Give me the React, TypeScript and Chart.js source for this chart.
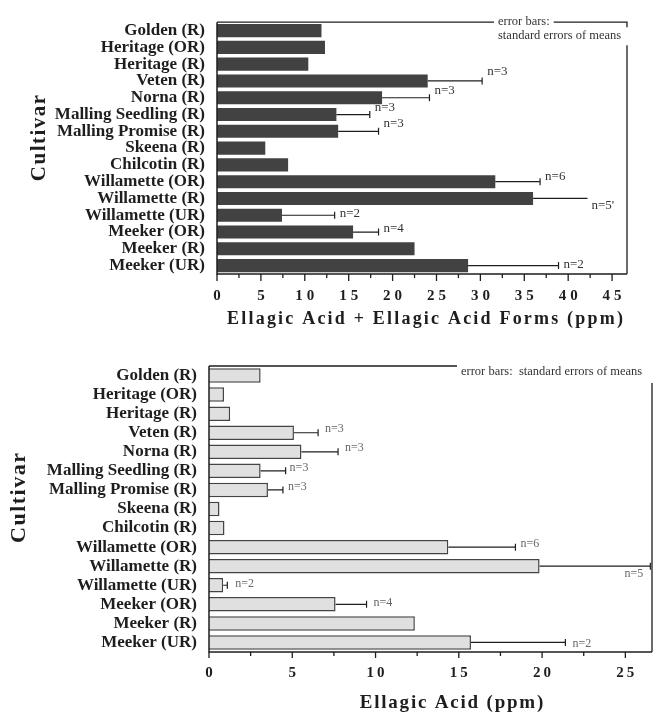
import { useEffect, useRef } from "react";
import { Chart, registerables } from "chart.js";

Chart.register(...registerables);

// Cultivars, top to bottom
const cultivars = [
  "Golden (R)",
  "Heritage (OR)",
  "Heritage (R)",
  "Veten (R)",
  "Norna (R)",
  "Malling Seedling (R)",
  "Malling Promise (R)",
  "Skeena (R)",
  "Chilcotin (R)",
  "Willamette (OR)",
  "Willamette (R)",
  "Willamette (UR)",
  "Meeker (OR)",
  "Meeker (R)",
  "Meeker (UR)",
];

// Ellagic acid + ellagic acid forms (ppm)
const totalMeans = [11.9, 12.3, 10.4, 24.0, 18.8, 13.6, 13.8, 5.5, 8.1, 31.7, 36.0, 7.4, 15.5, 22.5, 28.6];
const totalErrors = [null, null, null, 6.2, 5.4, 3.8, 4.6, null, null, 5.1, 6.2, 6.0, 2.9, null, 10.3];
const totalTicks = [0, 5, 10, 15, 20, 25, 30, 35, 40, 45];

// Free ellagic acid (ppm)
const freeMeans = [3.1, 0.9, 1.27, 5.1, 5.55, 3.1, 3.54, 0.63, 0.93, 14.37, 19.85, 0.85, 7.6, 12.36, 15.73];
const freeErrors = [null, null, null, 1.45, 2.2, 1.5, 0.9, null, null, 4.03, 6.65, 0.25, 1.86, null, 5.67];
const freeTicks = [0, 5, 10, 15, 20, 25];

// Number of samples behind each error bar
const sampleCounts = [null, null, null, 3, 3, 3, 3, null, null, 6, 5, 2, 4, null, 2];

const SERIF = "'Liberation Serif', 'Times New Roman', serif";
const INK = "#1e1e1e";

type LabelPlacement = { dy: number; dx?: number; right?: boolean; suffix?: string };

interface DecorConfig {
  means: number[];
  errors: (number | null)[];
  ticks: number[];
  axisTitle: string;
  titleDx: number;
  titleY: number;
  titleSize: number;
  titleSpacing: number;
  tickY: number;
  tickSpacing: number;
  majorLen: number;
  minorLen: number;
  cultivarX: number;
  cultivarY: number;
  cultivarSize: number;
  nFont: string;
  nColor: string;
  placements: Record<number, LabelPlacement>;
  noCap: number[];
  note: (ctx: CanvasRenderingContext2D, area: { left: number; right: number; top: number; bottom: number }) => void;
}

function spacedText(
  ctx: CanvasRenderingContext2D,
  text: string,
  x: number,
  y: number,
  spacing: number
) {
  ctx.save();
  (ctx as any).letterSpacing = spacing + "px";
  ctx.textAlign = "left";
  ctx.textBaseline = "middle";
  const w = ctx.measureText(text).width - spacing;
  ctx.fillText(text, x - w / 2, y);
  ctx.restore();
}

function makeDecor(cfg: DecorConfig) {
  return {
    id: "decor",
    afterDatasetsDraw(chart: Chart) {
      const ctx = chart.ctx;
      const xs = chart.scales.x;
      const ys = chart.scales.y;
      ctx.save();
      ctx.strokeStyle = INK;
      ctx.lineWidth = 1.2;
      cfg.means.forEach((m, i) => {
        const e = cfg.errors[i];
        if (e == null) return;
        const y = ys.getPixelForValue(i);
        const x0 = xs.getPixelForValue(m);
        const x1 = xs.getPixelForValue(m + e);
        ctx.beginPath();
        ctx.moveTo(x0, y);
        ctx.lineTo(x1, y);
        if (!cfg.noCap.includes(i)) {
          ctx.moveTo(x1, y - 3.5);
          ctx.lineTo(x1, y + 3.5);
        }
        ctx.stroke();
        const n = sampleCounts[i];
        if (n != null) {
          const p = cfg.placements[i] || { dy: -3 };
          ctx.font = cfg.nFont;
          ctx.fillStyle = cfg.nColor;
          ctx.textBaseline = "middle";
          const label = "n=" + n + (p.suffix || "");
          if (p.right) {
            ctx.textAlign = "right";
            ctx.fillText(label, x1 + (p.dx ?? -7), y + p.dy);
          } else {
            ctx.textAlign = "left";
            ctx.fillText(label, x1 + (p.dx ?? 5), y + p.dy);
          }
        }
      });
      ctx.restore();
    },
    afterDraw(chart: Chart) {
      const ctx = chart.ctx;
      const area = chart.chartArea;
      const xs = chart.scales.x;
      ctx.save();
      ctx.strokeStyle = INK;
      ctx.lineWidth = 1.5;
      // left and bottom axis lines
      ctx.beginPath();
      ctx.moveTo(area.left, area.top);
      ctx.lineTo(area.left, area.bottom);
      ctx.lineTo(area.right, area.bottom);
      ctx.stroke();

      // tick marks: majors at labelled values, minors halfway between
      ctx.lineWidth = 1.3;
      ctx.beginPath();
      cfg.ticks.forEach((t, k) => {
        const x = xs.getPixelForValue(t);
        ctx.moveTo(x, area.bottom);
        ctx.lineTo(x, area.bottom + cfg.majorLen);
        if (k < cfg.ticks.length - 1) {
          const xm = xs.getPixelForValue((t + cfg.ticks[k + 1]) / 2);
          ctx.moveTo(xm, area.bottom);
          ctx.lineTo(xm, area.bottom + cfg.minorLen);
        }
      });
      ctx.stroke();

      // tick labels
      ctx.fillStyle = INK;
      ctx.font = `bold 15px ${SERIF}`;
      cfg.ticks.forEach((t) => {
        spacedText(ctx, String(t), xs.getPixelForValue(t), cfg.tickY, cfg.tickSpacing);
      });

      // axis titles
      ctx.font = `bold ${cfg.titleSize}px ${SERIF}`;
      spacedText(ctx, cfg.axisTitle, (area.left + area.right) / 2 + cfg.titleDx, cfg.titleY, cfg.titleSpacing);

      ctx.save();
      ctx.translate(cfg.cultivarX, cfg.cultivarY);
      ctx.rotate(-Math.PI / 2);
      ctx.font = `bold ${cfg.cultivarSize}px ${SERIF}`;
      spacedText(ctx, "Cultivar", 0, 0, 1.5);
      ctx.restore();

      cfg.note(ctx, area);
      ctx.restore();
    },
  };
}

function BarPanel(props: {
  width: number;
  height: number;
  top: number;
  padTop: number;
  padRight: number;
  yWidth: number;
  xHeight: number;
  means: number[];
  max: number;
  fill: string;
  border: string;
  borderWidth: number;
  barPct: number;
  decor: DecorConfig;
}) {
  const ref = useRef<HTMLCanvasElement | null>(null);
  useEffect(() => {
    if (!ref.current) return;
    const chart = new Chart(ref.current, {
      type: "bar",
      data: {
        labels: cultivars,
        datasets: [
          {
            data: props.means,
            backgroundColor: props.fill,
            borderColor: props.border,
            borderWidth: props.borderWidth,
            borderSkipped: "start",
            barPercentage: props.barPct,
            categoryPercentage: 1,
          },
        ],
      },
      options: {
        indexAxis: "y",
        responsive: false,
        animation: false,
        layout: { padding: { top: props.padTop, right: props.padRight, left: 0, bottom: 0 } },
        plugins: { legend: { display: false }, tooltip: { enabled: false } },
        scales: {
          x: {
            type: "linear",
            min: 0,
            max: props.max,
            grid: { display: false },
            border: { display: false },
            ticks: { display: false },
            afterFit: (s: any) => {
              s.height = props.xHeight;
            },
          },
          y: {
            grid: { display: false, drawTicks: false },
            border: { display: false },
            ticks: {
              autoSkip: false,
              padding: 12,
              color: INK,
              font: { family: SERIF, weight: "bold", size: 17 },
            },
            afterFit: (s: any) => {
              s.width = props.yWidth;
            },
          },
        },
      },
      plugins: [makeDecor(props.decor)],
    } as any);
    return () => chart.destroy();
  }, []);
  return (
    <canvas
      ref={ref}
      width={props.width}
      height={props.height}
      style={{ position: "absolute", left: 0, top: props.top, width: props.width, height: props.height }}
    />
  );
}

const totalDecor: DecorConfig = {
  means: totalMeans,
  errors: totalErrors,
  ticks: totalTicks,
  axisTitle: "Ellagic Acid + Ellagic Acid Forms (ppm)",
  titleDx: 3,
  titleY: 319,
  titleSize: 18,
  titleSpacing: 2.2,
  tickY: 296,
  tickSpacing: 4,
  majorLen: 7,
  minorLen: 4,
  cultivarX: 40,
  cultivarY: 138,
  cultivarSize: 21,
  nFont: `13px ${SERIF}`,
  nColor: "#333",
  placements: {
    3: { dy: -9 },
    4: { dy: -7 },
    5: { dy: -7 },
    6: { dy: -8 },
    9: { dy: -5 },
    10: { dy: 7, dx: 4, suffix: "'" },
    11: { dy: -2 },
    12: { dy: -3 },
    14: { dy: -1 },
  },
  noCap: [10],
  note: (ctx, a) => {
    ctx.strokeStyle = INK;
    ctx.lineWidth = 1.3;
    ctx.font = `12.5px ${SERIF}`;
    ctx.fillStyle = "#333";
    ctx.textAlign = "left";
    ctx.textBaseline = "middle";
    const tx = a.right - 129;
    const w1 = ctx.measureText("error bars:").width;
    ctx.fillText("error bars:", tx, a.top);
    ctx.fillText("standard errors of means", tx, a.top + 14);
    ctx.beginPath();
    ctx.moveTo(a.left, a.top);
    ctx.lineTo(tx - 4, a.top);
    ctx.moveTo(tx + w1 + 4, a.top);
    ctx.lineTo(a.right, a.top);
    ctx.lineTo(a.right, a.top + 5);
    ctx.moveTo(a.right, a.top + 23);
    ctx.lineTo(a.right, a.bottom);
    ctx.stroke();
  },
};

const freeDecor: DecorConfig = {
  means: freeMeans,
  errors: freeErrors,
  ticks: freeTicks,
  axisTitle: "Ellagic Acid (ppm)",
  titleDx: 21,
  titleY: 363,
  titleSize: 19,
  titleSpacing: 1.8,
  tickY: 333,
  tickSpacing: 3,
  majorLen: 6,
  minorLen: 4,
  cultivarX: 19,
  cultivarY: 158,
  cultivarSize: 22,
  nFont: `12px ${SERIF}`,
  nColor: "#666",
  placements: {
    3: { dy: -4, dx: 7 },
    4: { dy: -4, dx: 7 },
    5: { dy: -3, dx: 4 },
    6: { dy: -3, dx: 5 },
    9: { dy: -3 },
    10: { dy: 8, right: true },
    11: { dy: -1, dx: 8 },
    12: { dy: -1, dx: 7 },
    14: { dy: 1, dx: 7 },
  },
  noCap: [],
  note: (ctx, a) => {
    ctx.strokeStyle = INK;
    ctx.lineWidth = 1.3;
    ctx.font = `12.5px ${SERIF}`;
    ctx.fillStyle = "#333";
    ctx.textAlign = "left";
    ctx.textBaseline = "middle";
    const tx = a.left + 252;
    ctx.fillText("error bars:  standard errors of means", tx, a.top + 6);
    ctx.beginPath();
    ctx.moveTo(a.left, a.top);
    ctx.lineTo(tx - 4, a.top);
    ctx.moveTo(a.right, a.top + 17);
    ctx.lineTo(a.right, a.bottom);
    ctx.stroke();
  },
};

export default function App() {
  return (
    <div style={{ position: "absolute", left: 0, top: 0, width: 657, height: 712, background: "#fff" }}>
      <BarPanel
        width={657}
        height={335}
        top={0}
        padTop={14}
        padRight={30}
        yWidth={217}
        xHeight={61}
        means={totalMeans}
        max={46.7}
        fill="#424242"
        border="#333"
        borderWidth={0}
        barPct={0.78}
        decor={totalDecor}
      />
      <BarPanel
        width={657}
        height={372}
        top={340}
        padTop={26}
        padRight={5}
        yWidth={209}
        xHeight={60}
        means={freeMeans}
        max={26.6}
        fill="#e0e0e0"
        border="#444"
        borderWidth={1.5}
        barPct={0.76}
        decor={freeDecor}
      />
    </div>
  );
}
